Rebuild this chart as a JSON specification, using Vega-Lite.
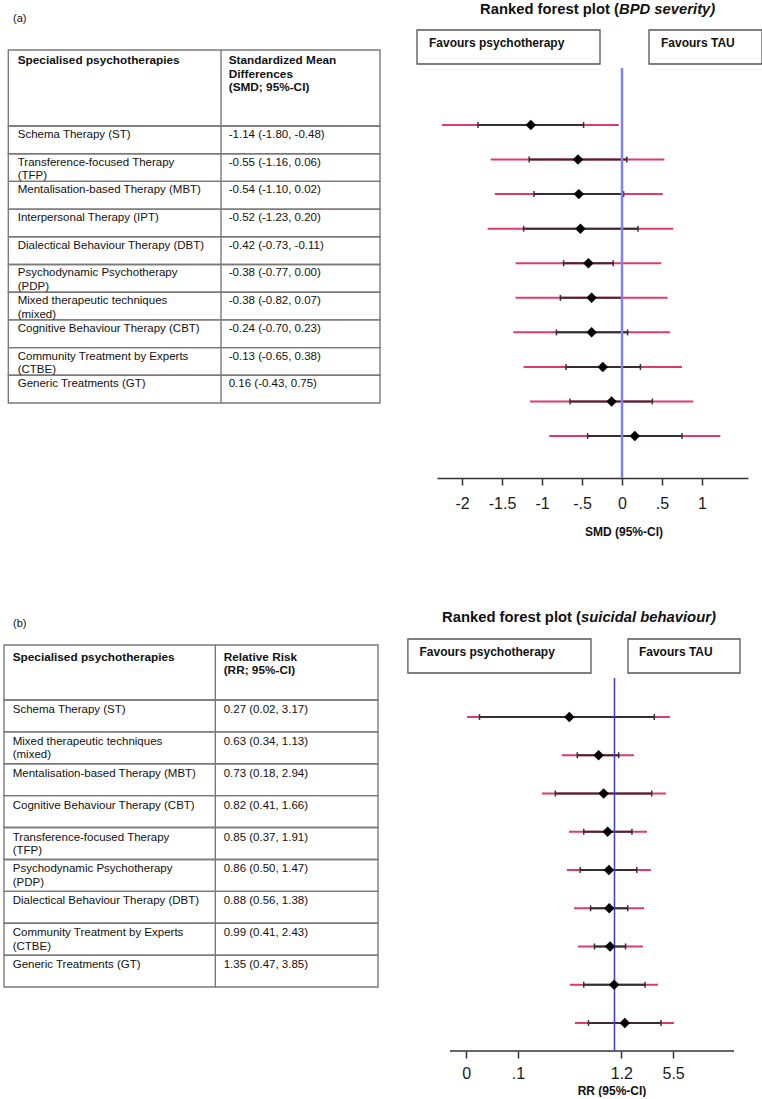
{
  "$schema": "https://vega.github.io/schema/vega-lite/v6.json",
  "padding": {"left": 3, "top": 0, "right": 0, "bottom": 0},
  "autosize": {"type": "pad"},
  "columns": 2,
  "align": "each",
  "bounds": "flush",
  "spacing": {"row": 122, "column": 57},
  "config": {"view": {"stroke": null}, "font": "Liberation Sans", "text": {"font": "Liberation Sans"}},
  "datasets": {
    "a": [
      {"rank": 1, "therapy": "Schema Therapy (ST)", "est": "-1.14 (-1.80, -0.48)", "smd": -1.14, "lo": -1.80, "hi": -0.48, "pi_lo": -2.25, "pi_hi": -0.04},
      {"rank": 2, "therapy": "Transference-focused Therapy\n(TFP)", "est": "-0.55 (-1.16, 0.06)", "smd": -0.55, "lo": -1.16, "hi": 0.06, "pi_lo": -1.64, "pi_hi": 0.53},
      {"rank": 3, "therapy": "Mentalisation-based Therapy (MBT)", "est": "-0.54 (-1.10, 0.02)", "smd": -0.54, "lo": -1.10, "hi": 0.02, "pi_lo": -1.59, "pi_hi": 0.51},
      {"rank": 4, "therapy": "Interpersonal Therapy (IPT)", "est": "-0.52 (-1.23, 0.20)", "smd": -0.52, "lo": -1.23, "hi": 0.20, "pi_lo": -1.68, "pi_hi": 0.64},
      {"rank": 5, "therapy": "Dialectical Behaviour Therapy (DBT)", "est": "-0.42 (-0.73, -0.11)", "smd": -0.42, "lo": -0.73, "hi": -0.11, "pi_lo": -1.33, "pi_hi": 0.49},
      {"rank": 6, "therapy": "Psychodynamic Psychotherapy\n(PDP)", "est": "-0.38 (-0.77, 0.00)", "smd": -0.38, "lo": -0.77, "hi": 0.00, "pi_lo": -1.33, "pi_hi": 0.57},
      {"rank": 7, "therapy": "Mixed therapeutic techniques\n(mixed)", "est": "-0.38 (-0.82, 0.07)", "smd": -0.38, "lo": -0.82, "hi": 0.07, "pi_lo": -1.36, "pi_hi": 0.60},
      {"rank": 8, "therapy": "Cognitive Behaviour Therapy (CBT)", "est": "-0.24 (-0.70, 0.23)", "smd": -0.24, "lo": -0.70, "hi": 0.23, "pi_lo": -1.23, "pi_hi": 0.75},
      {"rank": 9, "therapy": "Community Treatment by Experts\n(CTBE)", "est": "-0.13 (-0.65, 0.38)", "smd": -0.13, "lo": -0.65, "hi": 0.38, "pi_lo": -1.15, "pi_hi": 0.89},
      {"rank": 10, "therapy": "Generic Treatments (GT)", "est": "0.16 (-0.43, 0.75)", "smd": 0.16, "lo": -0.43, "hi": 0.75, "pi_lo": -0.91, "pi_hi": 1.23}
    ],
    "b": [
      {"rank": 1, "therapy": "Schema Therapy (ST)", "est": "0.27 (0.02, 3.17)", "rr": 0.27, "lo": 0.02, "hi": 3.17, "pi_lo": 0.0139, "pi_hi": 5.0},
      {"rank": 2, "therapy": "Mixed therapeutic techniques\n(mixed)", "est": "0.63 (0.34, 1.13)", "rr": 0.63, "lo": 0.34, "hi": 1.13, "pi_lo": 0.218, "pi_hi": 1.76},
      {"rank": 3, "therapy": "Mentalisation-based Therapy (MBT)", "est": "0.73 (0.18, 2.94)", "rr": 0.73, "lo": 0.18, "hi": 2.94, "pi_lo": 0.122, "pi_hi": 4.45},
      {"rank": 4, "therapy": "Cognitive Behaviour Therapy (CBT)", "est": "0.82 (0.41, 1.66)", "rr": 0.82, "lo": 0.41, "hi": 1.66, "pi_lo": 0.267, "pi_hi": 2.57},
      {"rank": 5, "therapy": "Transference-focused Therapy\n(TFP)", "est": "0.85 (0.37, 1.91)", "rr": 0.85, "lo": 0.37, "hi": 1.91, "pi_lo": 0.252, "pi_hi": 2.88},
      {"rank": 6, "therapy": "Psychodynamic Psychotherapy\n(PDP)", "est": "0.86 (0.50, 1.47)", "rr": 0.86, "lo": 0.50, "hi": 1.47, "pi_lo": 0.309, "pi_hi": 2.35},
      {"rank": 7, "therapy": "Dialectical Behaviour Therapy (DBT)", "est": "0.88 (0.56, 1.38)", "rr": 0.88, "lo": 0.56, "hi": 1.38, "pi_lo": 0.347, "pi_hi": 2.28},
      {"rank": 8, "therapy": "Community Treatment by Experts\n(CTBE)", "est": "0.99 (0.41, 2.43)", "rr": 0.99, "lo": 0.41, "hi": 2.43, "pi_lo": 0.275, "pi_hi": 3.53},
      {"rank": 9, "therapy": "Generic Treatments (GT)", "est": "1.35 (0.47, 3.85)", "rr": 1.35, "lo": 0.47, "hi": 3.85, "pi_lo": 0.318, "pi_hi": 5.61}
    ]
  },
  "concat": [
    {
      "width": 376, "height": 403,
      "resolve": {"scale": {"y": "independent"}},
      "layer": [
        {
          "data": {"name": "a"},
          "layer": [
            {
              "mark": {"type": "rect", "fill": "white", "fillOpacity": 0, "stroke": "#7a7a7a", "strokeWidth": 1.4},
              "encoding": {
                "x": {"datum": 0, "scale": {"domain": [-0.0116, 1], "nice": false, "zero": false}, "axis": null},
                "x2": {"datum": 1},
                "y": {"field": "rank", "type": "ordinal", "scale": {"type": "band", "domain": [-3, -2, -1, 0, 1, 2, 3, 4, 5, 6, 7, 8, 9, 10], "paddingInner": 0, "paddingOuter": 0.274, "align": 1}, "axis": null}
              }
            },
            {
              "mark": {"type": "text", "align": "left", "baseline": "top", "dy": 3, "fontSize": 11.5, "color": "#111", "lineBreak": "\n", "lineHeight": 13.5},
              "encoding": {
                "x": {"datum": 0.0253, "axis": null},
                "y": {"field": "rank", "type": "ordinal", "bandPosition": 0, "axis": null},
                "text": {"field": "therapy"}
              }
            },
            {
              "mark": {"type": "text", "align": "left", "baseline": "top", "dy": 3, "fontSize": 11.5, "color": "#111"},
              "encoding": {
                "x": {"datum": 0.593, "axis": null},
                "y": {"field": "rank", "type": "ordinal", "bandPosition": 0, "axis": null},
                "text": {"field": "est"}
              }
            }
          ]
        },
        {
          "data": {"values": [{"lab": "(a)", "c1": "Specialised psychotherapies", "c2": "Standardized Mean\nDifferences\n(SMD; 95%-CI)"}]},
          "layer": [
            {
              "mark": {"type": "rect", "fill": "white", "fillOpacity": 0, "stroke": "#7a7a7a", "strokeWidth": 1.4},
              "encoding": {
                "x": {"datum": 0, "axis": null},
                "x2": {"datum": 1},
                "y": {"datum": 0.1241, "scale": {"domain": [0, 1], "reverse": true, "nice": false, "zero": false}, "axis": null},
                "y2": {"datum": 0.3127}
              }
            },
            {
              "mark": {"type": "rule", "stroke": "#7a7a7a", "strokeWidth": 1.4},
              "encoding": {
                "x": {"datum": 0.5722, "axis": null},
                "y": {"datum": 0.1241, "axis": null},
                "y2": {"datum": 1}
              }
            },
            {
              "mark": {"type": "text", "align": "left", "baseline": "middle", "fontSize": 11, "color": "#111"},
              "encoding": {
                "x": {"datum": 0.0126, "axis": null},
                "y": {"datum": 0.0471, "axis": null},
                "text": {"field": "lab"}
              }
            },
            {
              "mark": {"type": "text", "align": "left", "baseline": "top", "dy": 5, "fontSize": 11.8, "fontWeight": "bold", "color": "#111"},
              "encoding": {
                "x": {"datum": 0.0253, "axis": null},
                "y": {"datum": 0.1241, "axis": null},
                "text": {"field": "c1"}
              }
            },
            {
              "mark": {"type": "text", "align": "left", "baseline": "top", "dy": 5, "fontSize": 11.8, "fontWeight": "bold", "color": "#111", "lineBreak": "\n", "lineHeight": 13.7},
              "encoding": {
                "x": {"datum": 0.593, "axis": null},
                "y": {"datum": 0.1241, "axis": null},
                "text": {"field": "c2"}
              }
            }
          ]
        }
      ]
    },
    {
      "width": 311, "height": 478,
      "data": {"name": "a"},
      "layer": [
        {
          "mark": {"type": "rule", "color": "#dd3b6b", "strokeWidth": 2},
          "encoding": {
            "x": {"field": "pi_lo", "type": "quantitative", "title": null,
                  "scale": {"domain": [-2.3125, 1.575], "nice": false, "zero": false},
                  "axis": {"values": [-2, -1.5, -1, -0.5, 0, 0.5, 1], "title": null, "grid": false,
                           "labelExpr": "datum.value == -2 ? '-2' : datum.value == -1.5 ? '-1.5' : datum.value == -1 ? '-1' : datum.value == -0.5 ? '-.5' : datum.value == 0 ? '0' : datum.value == 0.5 ? '.5' : '1'",
                           "domainColor": "#333", "domainWidth": 1.5, "tickColor": "#333", "tickWidth": 1.5, "tickSize": 7,
                           "labelFontSize": 16, "labelColor": "#1a1a1a", "labelPadding": 10, "labelFont": "Liberation Sans",
                           "labelFlush": false, "labelOverlap": false}},
            "x2": {"field": "pi_hi"},
            "y": {"field": "rank", "type": "quantitative", "scale": {"domain": [-2.617, 11.214], "reverse": true, "nice": false, "zero": false}, "axis": null}
          }
        },
        {
          "mark": {"type": "rule", "color": "#3b2b30", "strokeWidth": 2},
          "encoding": {
            "x": {"field": "lo", "type": "quantitative", "title": null},
            "x2": {"field": "hi"},
            "y": {"field": "rank", "type": "quantitative", "axis": null}
          }
        },
        {
          "mark": {"type": "tick", "orient": "vertical", "size": 6, "thickness": 1.5, "color": "#333", "opacity": 1},
          "encoding": {
            "x": {"field": "lo", "type": "quantitative", "title": null},
            "y": {"field": "rank", "type": "quantitative", "axis": null}
          }
        },
        {
          "mark": {"type": "tick", "orient": "vertical", "size": 6, "thickness": 1.5, "color": "#333", "opacity": 1},
          "encoding": {
            "x": {"field": "hi", "type": "quantitative", "title": null},
            "y": {"field": "rank", "type": "quantitative", "axis": null}
          }
        },
        {
          "data": {"values": [{}]},
          "mark": {"type": "rule", "color": "#7f80f5", "strokeWidth": 2.5},
          "encoding": {
            "x": {"datum": 0, "title": null},
            "y": {"datum": -0.649, "axis": null},
            "y2": {"datum": 11.214}
          }
        },
        {
          "mark": {"type": "point", "shape": "diamond", "filled": true, "size": 110, "color": "black", "opacity": 1},
          "encoding": {
            "x": {"field": "smd", "type": "quantitative", "title": null},
            "y": {"field": "rank", "type": "quantitative", "axis": null}
          }
        },
        {
          "data": {"values": [{"t1": "Ranked forest plot (", "t2": "BPD severity)", "fp": "Favours psychotherapy", "ft": "Favours TAU", "xt": "SMD (95%-CI)"}]},
          "layer": [
            {
              "mark": {"type": "rect", "fill": "white", "stroke": "#555", "strokeWidth": 1.3},
              "encoding": {
                "x": {"datum": -2.5625, "title": null}, "x2": {"datum": -0.275},
                "y": {"datum": -1.749, "axis": null}, "y2": {"datum": -0.765}
              }
            },
            {
              "mark": {"type": "rect", "fill": "white", "stroke": "#555", "strokeWidth": 1.3},
              "encoding": {
                "x": {"datum": 0.3375, "title": null}, "x2": {"datum": 1.75},
                "y": {"datum": -1.749, "axis": null}, "y2": {"datum": -0.765}
              }
            },
            {
              "mark": {"type": "text", "align": "left", "baseline": "alphabetic", "fontSize": 12, "fontWeight": "bold", "color": "#111"},
              "encoding": {
                "x": {"datum": -2.4125, "title": null}, "y": {"datum": -1.257, "axis": null},
                "text": {"field": "fp"}
              }
            },
            {
              "mark": {"type": "text", "align": "left", "baseline": "alphabetic", "fontSize": 12, "fontWeight": "bold", "color": "#111"},
              "encoding": {
                "x": {"datum": 0.4875, "title": null}, "y": {"datum": -1.257, "axis": null},
                "text": {"field": "ft"}
              }
            },
            {
              "mark": {"type": "text", "align": "right", "baseline": "alphabetic", "fontSize": 14.8, "fontWeight": "bold", "color": "#111"},
              "encoding": {
                "x": {"datum": -0.0375, "title": null}, "y": {"datum": -2.212, "axis": null},
                "text": {"field": "t1"}
              }
            },
            {
              "mark": {"type": "text", "align": "left", "baseline": "alphabetic", "fontSize": 14.8, "fontWeight": "bold", "fontStyle": "italic", "color": "#111"},
              "encoding": {
                "x": {"datum": -0.0375, "title": null}, "y": {"datum": -2.212, "axis": null},
                "text": {"field": "t2"}
              }
            },
            {
              "mark": {"type": "text", "align": "center", "baseline": "alphabetic", "fontSize": 12, "fontWeight": "bold", "color": "#111"},
              "encoding": {
                "x": {"datum": 0.025, "title": null}, "y": {"datum": 12.893, "axis": null},
                "text": {"field": "xt"}
              }
            }
          ]
        }
      ]
    },
    {
      "width": 376, "height": 387,
      "resolve": {"scale": {"y": "independent"}},
      "layer": [
        {
          "data": {"name": "b"},
          "layer": [
            {
              "mark": {"type": "rect", "fill": "white", "fillOpacity": 0, "stroke": "#7a7a7a", "strokeWidth": 1.4},
              "encoding": {
                "x": {"datum": 0, "scale": {"domain": [0, 1.00535], "nice": false, "zero": false}, "axis": null},
                "x2": {"datum": 1},
                "y": {"field": "rank", "type": "ordinal", "scale": {"type": "band", "domain": [-2, -1, 0, 1, 2, 3, 4, 5, 6, 7, 8, 9], "paddingInner": 0, "paddingOuter": 0.0679, "align": 1}, "axis": null}
              }
            },
            {
              "mark": {"type": "text", "align": "left", "baseline": "top", "dy": 4, "fontSize": 11.5, "color": "#111", "lineBreak": "\n", "lineHeight": 13.5},
              "encoding": {
                "x": {"datum": 0.0233, "axis": null},
                "y": {"field": "rank", "type": "ordinal", "bandPosition": 0, "axis": null},
                "text": {"field": "therapy"}
              }
            },
            {
              "mark": {"type": "text", "align": "left", "baseline": "top", "dy": 4, "fontSize": 11.5, "color": "#111"},
              "encoding": {
                "x": {"datum": 0.5874, "axis": null},
                "y": {"field": "rank", "type": "ordinal", "bandPosition": 0, "axis": null},
                "text": {"field": "est"}
              }
            }
          ]
        },
        {
          "data": {"values": [{"lab": "(b)", "c1": "Specialised psychotherapies", "c2": "Relative Risk\n(RR; 95%-CI)"}]},
          "layer": [
            {
              "mark": {"type": "rect", "fill": "white", "fillOpacity": 0, "stroke": "#7a7a7a", "strokeWidth": 1.4},
              "encoding": {
                "x": {"datum": 0, "axis": null},
                "x2": {"datum": 1},
                "y": {"datum": 0.1163, "scale": {"domain": [0, 1], "reverse": true, "nice": false, "zero": false}, "axis": null},
                "y2": {"datum": 0.2584}
              }
            },
            {
              "mark": {"type": "rule", "stroke": "#7a7a7a", "strokeWidth": 1.4},
              "encoding": {
                "x": {"datum": 0.565, "axis": null},
                "y": {"datum": 0.1163, "axis": null},
                "y2": {"datum": 1}
              }
            },
            {
              "mark": {"type": "text", "align": "left", "baseline": "middle", "fontSize": 11, "color": "#111"},
              "encoding": {
                "x": {"datum": 0.024, "axis": null},
                "y": {"datum": 0.062, "axis": null},
                "text": {"field": "lab"}
              }
            },
            {
              "mark": {"type": "text", "align": "left", "baseline": "top", "dy": 7, "fontSize": 11.8, "fontWeight": "bold", "color": "#111"},
              "encoding": {
                "x": {"datum": 0.0233, "axis": null},
                "y": {"datum": 0.1163, "axis": null},
                "text": {"field": "c1"}
              }
            },
            {
              "mark": {"type": "text", "align": "left", "baseline": "top", "dy": 7, "fontSize": 11.8, "fontWeight": "bold", "color": "#111", "lineBreak": "\n", "lineHeight": 13.4},
              "encoding": {
                "x": {"datum": 0.5874, "axis": null},
                "y": {"datum": 0.1163, "axis": null},
                "text": {"field": "c2"}
              }
            }
          ]
        }
      ]
    },
    {
      "width": 297, "height": 451,
      "data": {"name": "b"},
      "layer": [
        {
          "mark": {"type": "rule", "color": "#dd3b6b", "strokeWidth": 2},
          "encoding": {
            "x": {"field": "pi_lo", "type": "quantitative", "title": null,
                  "scale": {"type": "log", "domain": [0.005835, 31.94], "nice": false},
                  "axis": {"values": [0.01357, 0.06081, 1.2214, 5.4739], "title": null, "grid": false, "domain": false,
                           "labelExpr": "datum.value < 0.03 ? '0' : datum.value < 0.5 ? '.1' : datum.value < 3 ? '1.2' : '5.5'",
                           "tickColor": "#333", "tickWidth": 1.5, "tickSize": 7,
                           "labelFontSize": 16, "labelColor": "#1a1a1a", "labelPadding": 7, "labelFont": "Liberation Sans",
                           "labelFlush": false, "labelOverlap": false}},
            "x2": {"field": "pi_hi"},
            "y": {"field": "rank", "type": "quantitative", "scale": {"domain": [-2.059, 9.732], "reverse": true, "nice": false, "zero": false}, "axis": null}
          }
        },
        {
          "mark": {"type": "rule", "color": "#3b2b30", "strokeWidth": 2},
          "encoding": {
            "x": {"field": "lo", "type": "quantitative", "title": null},
            "x2": {"field": "hi"},
            "y": {"field": "rank", "type": "quantitative", "axis": null}
          }
        },
        {
          "mark": {"type": "tick", "orient": "vertical", "size": 6, "thickness": 1.5, "color": "#333", "opacity": 1},
          "encoding": {
            "x": {"field": "lo", "type": "quantitative", "title": null},
            "y": {"field": "rank", "type": "quantitative", "axis": null}
          }
        },
        {
          "mark": {"type": "tick", "orient": "vertical", "size": 6, "thickness": 1.5, "color": "#333", "opacity": 1},
          "encoding": {
            "x": {"field": "hi", "type": "quantitative", "title": null},
            "y": {"field": "rank", "type": "quantitative", "axis": null}
          }
        },
        {
          "data": {"values": [{}]},
          "mark": {"type": "rule", "color": "#333", "strokeWidth": 1.5},
          "encoding": {
            "x": {"datum": 0.0085, "title": null},
            "x2": {"datum": 31.94},
            "y": {"datum": 9.732, "axis": null}
          }
        },
        {
          "data": {"values": [{}]},
          "mark": {"type": "rule", "color": "#3a3ae8", "strokeWidth": 1.5},
          "encoding": {
            "x": {"datum": 1, "title": null},
            "y": {"datum": -0.0196, "axis": null},
            "y2": {"datum": 9.732}
          }
        },
        {
          "mark": {"type": "point", "shape": "diamond", "filled": true, "size": 110, "color": "black", "opacity": 1},
          "encoding": {
            "x": {"field": "rr", "type": "quantitative", "title": null},
            "y": {"field": "rank", "type": "quantitative", "axis": null}
          }
        },
        {
          "data": {"values": [{"t1": "Ranked forest plot (", "t2": "suicidal behaviour)", "fp": "Favours psychotherapy", "ft": "Favours TAU", "xt": "RR (95%-CI)"}]},
          "layer": [
            {
              "mark": {"type": "rect", "fill": "white", "stroke": "#555", "strokeWidth": 1.3},
              "encoding": {
                "x": {"datum": 0.00251, "title": null}, "x2": {"datum": 0.506},
                "y": {"datum": -1.039, "axis": null}, "y2": {"datum": -0.150}
              }
            },
            {
              "mark": {"type": "rect", "fill": "white", "stroke": "#555", "strokeWidth": 1.3},
              "encoding": {
                "x": {"datum": 1.479, "title": null}, "x2": {"datum": 38.0},
                "y": {"datum": -1.039, "axis": null}, "y2": {"datum": -0.150}
              }
            },
            {
              "mark": {"type": "text", "align": "left", "baseline": "alphabetic", "fontSize": 12, "fontWeight": "bold", "color": "#111"},
              "encoding": {
                "x": {"datum": 0.00351, "title": null}, "y": {"datum": -0.595, "axis": null},
                "text": {"field": "fp"}
              }
            },
            {
              "mark": {"type": "text", "align": "left", "baseline": "alphabetic", "fontSize": 12, "fontWeight": "bold", "color": "#111"},
              "encoding": {
                "x": {"datum": 2.03, "title": null}, "y": {"datum": -0.595, "axis": null},
                "text": {"field": "ft"}
              }
            },
            {
              "mark": {"type": "text", "align": "right", "baseline": "alphabetic", "fontSize": 14.8, "fontWeight": "bold", "color": "#111"},
              "encoding": {
                "x": {"datum": 0.379, "title": null}, "y": {"datum": -1.484, "axis": null},
                "text": {"field": "t1"}
              }
            },
            {
              "mark": {"type": "text", "align": "left", "baseline": "alphabetic", "fontSize": 14.8, "fontWeight": "bold", "fontStyle": "italic", "color": "#111"},
              "encoding": {
                "x": {"datum": 0.379, "title": null}, "y": {"datum": -1.484, "axis": null},
                "text": {"field": "t2"}
              }
            },
            {
              "mark": {"type": "text", "align": "center", "baseline": "alphabetic", "fontSize": 12, "fontWeight": "bold", "color": "#111"},
              "encoding": {
                "x": {"datum": 0.930, "title": null}, "y": {"datum": 10.882, "axis": null},
                "text": {"field": "xt"}
              }
            }
          ]
        }
      ]
    }
  ]
}
